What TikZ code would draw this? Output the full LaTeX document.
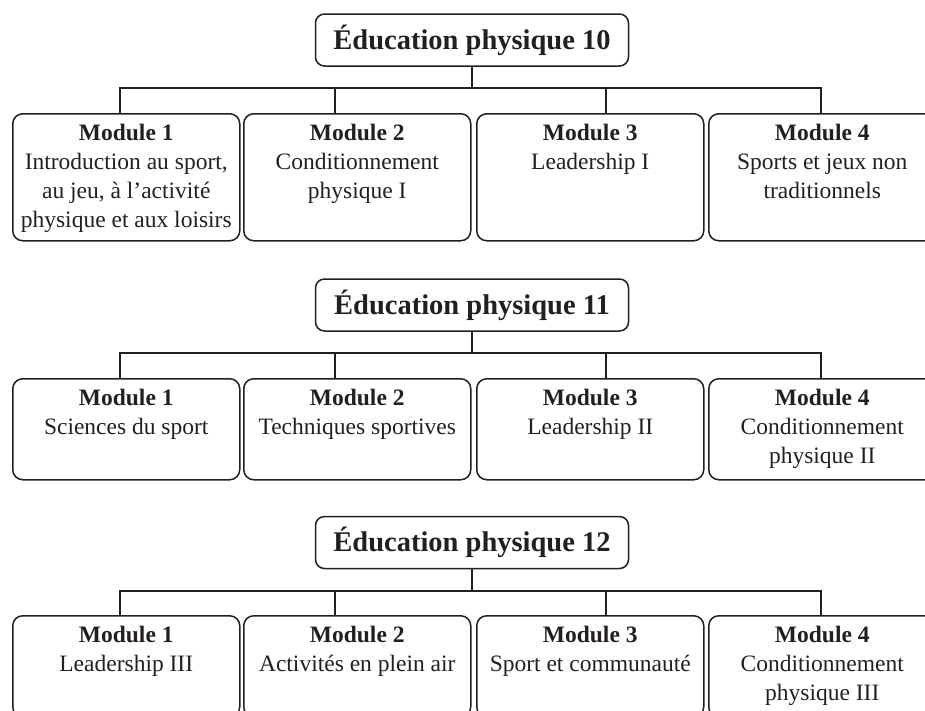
\documentclass[tikz,border=0pt]{standalone}
\usepackage{fontspec}
\setmainfont{Liberation Serif}
\definecolor{ink}{HTML}{231F20}
\begin{document}
\begin{tikzpicture}[x=1pt,y=-1pt,
  conn/.style={draw=ink,line width=1.8pt},
  titlebox/.style={draw=ink,line width=1.5pt,rounded corners=9pt,minimum width=313pt,minimum height=52pt,inner sep=0pt,
     font=\fontsize{28.5}{32}\selectfont\bfseries,text=ink},
  modbox/.style={draw=ink,line width=1.5pt,rounded corners=10pt,minimum width=227pt,inner sep=0pt,anchor=north west},
  modtext/.style={anchor=north,align=center,inner sep=0pt,text=ink,font=\fontsize{23.5}{29}\selectfont}
]
\useasboundingbox (0,0) rectangle (925,710);

% ---------- Section 1 ----------
\node[titlebox] (t1) at (472,40) {Éducation physique 10};
\node[modbox,minimum height=127pt] (a1) at (12,113) {};
\node[modbox,minimum height=127pt] (a2) at (243,113) {};
\node[modbox,minimum height=127pt] (a3) at (476,113) {};
\node[modbox,minimum height=127pt] (a4) at (708,113) {};
\node[modtext] (ta1) at ([yshift=-10.5pt]a1.north) {\textbf{Module 1}\\Introduction au sport,\\au jeu, à l’activité\\physique et aux loisirs};
\node[modtext] (ta2) at ([yshift=-10.5pt]a2.north) {\textbf{Module 2}\\Conditionnement\\physique I};
\node[modtext] (ta3) at ([yshift=-10.5pt]a3.north) {\textbf{Module 3}\\Leadership I};
\node[modtext] (ta4) at ([yshift=-10.5pt]a4.north) {\textbf{Module 4}\\Sports et jeux non\\traditionnels};
\coordinate (j1) at (472,88);
\draw[conn] (t1.south) -- (j1);
\draw[conn] ([xshift=108pt]a1.north west) |- (j1) -| ([xshift=113pt]a4.north west);
\draw[conn] ([xshift=92pt]a2.north west) -- ([xshift=92pt]a2.north west |- j1);
\draw[conn] ([xshift=130pt]a3.north west) -- ([xshift=130pt]a3.north west |- j1);

% ---------- Section 2 ----------
\node[titlebox] (t2) at (472,305) {Éducation physique 11};
\node[modbox,minimum height=101pt] (b1) at (12,378) {};
\node[modbox,minimum height=101pt] (b2) at (243,378) {};
\node[modbox,minimum height=101pt] (b3) at (476,378) {};
\node[modbox,minimum height=101pt] (b4) at (708,378) {};
\node[modtext] (tb1) at ([yshift=-10.5pt]b1.north) {\textbf{Module 1}\\Sciences du sport};
\node[modtext] (tb2) at ([yshift=-10.5pt]b2.north) {\textbf{Module 2}\\Techniques sportives};
\node[modtext] (tb3) at ([yshift=-10.5pt]b3.north) {\textbf{Module 3}\\Leadership II};
\node[modtext] (tb4) at ([yshift=-10.5pt]b4.north) {\textbf{Module 4}\\Conditionnement\\physique II};
\coordinate (j2) at (472,353);
\draw[conn] (t2.south) -- (j2);
\draw[conn] ([xshift=108pt]b1.north west) |- (j2) -| ([xshift=113pt]b4.north west);
\draw[conn] ([xshift=92pt]b2.north west) -- ([xshift=92pt]b2.north west |- j2);
\draw[conn] ([xshift=130pt]b3.north west) -- ([xshift=130pt]b3.north west |- j2);

% ---------- Section 3 ----------
\node[titlebox] (t3) at (472,542.5) {Éducation physique 12};
\node[modbox,minimum height=101pt] (c1) at (12,615) {};
\node[modbox,minimum height=101pt] (c2) at (243,615) {};
\node[modbox,minimum height=101pt] (c3) at (476,615) {};
\node[modbox,minimum height=101pt] (c4) at (708,615) {};
\node[modtext] (tc1) at ([yshift=-10.5pt]c1.north) {\textbf{Module 1}\\Leadership III};
\node[modtext] (tc2) at ([yshift=-10.5pt]c2.north) {\textbf{Module 2}\\Activités en plein air};
\node[modtext] (tc3) at ([yshift=-10.5pt]c3.north) {\textbf{Module 3}\\Sport et communauté};
\node[modtext] (tc4) at ([yshift=-10.5pt]c4.north) {\textbf{Module 4}\\Conditionnement\\physique III};
\coordinate (j3) at (472,591);
\draw[conn] (t3.south) -- (j3);
\draw[conn] ([xshift=108pt]c1.north west) |- (j3) -| ([xshift=113pt]c4.north west);
\draw[conn] ([xshift=92pt]c2.north west) -- ([xshift=92pt]c2.north west |- j3);
\draw[conn] ([xshift=130pt]c3.north west) -- ([xshift=130pt]c3.north west |- j3);
\end{tikzpicture}
\end{document}
